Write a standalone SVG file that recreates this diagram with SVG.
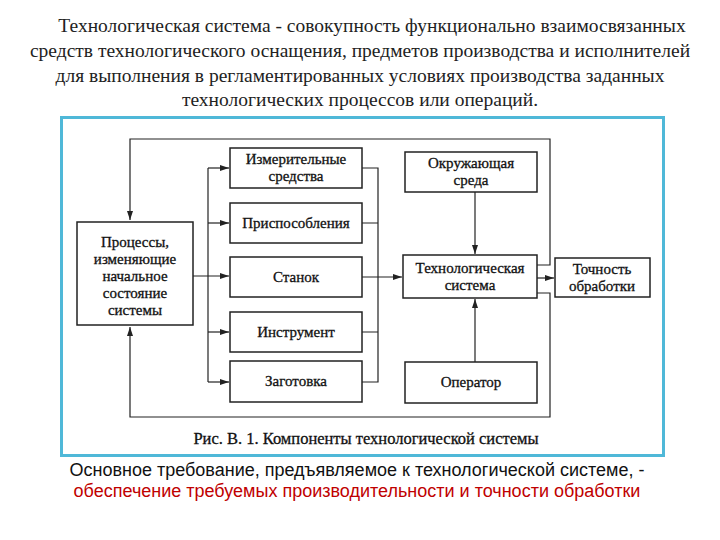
<svg xmlns="http://www.w3.org/2000/svg" width="720" height="540" viewBox="0 0 720 540">
<style>
.h{font-family:'Liberation Serif','DejaVu Serif',serif;font-size:19.5px;fill:#222;text-anchor:middle}
.b{fill:#fff;stroke:#222;stroke-width:1.5}
.t{font-family:'Liberation Serif','DejaVu Serif',serif;font-size:15px;fill:#111;text-anchor:middle;stroke:#111;stroke-width:0.3}
.l{fill:none;stroke:#222;stroke-width:1.2}
.s{font-family:'Liberation Sans',Arial,sans-serif;font-size:18px;text-anchor:middle}
</style>
<defs><marker id="a" markerWidth="10" markerHeight="8" refX="9" refY="4" orient="auto" markerUnits="userSpaceOnUse"><path d="M0,1 L9,4 L0,7 z" fill="#222"/></marker></defs>
<rect width="720" height="540" fill="#fff"/>
<text class="h" x="372" y="32">Технологическая система - совокупность функционально взаимосвязанных</text>
<text class="h" x="360" y="57">средств технологического оснащения, предметов производства и исполнителей</text>
<text class="h" x="360" y="82">для выполнения в регламентированных условиях производства заданных</text>
<text class="h" x="360" y="106">технологических процессов или операций.</text>
<rect x="61.5" y="117.5" width="602" height="338" fill="#fff" stroke="#4fb8d8" stroke-width="3"/>
<g id="connectors">
<path class="l" d="M403,265 H550 V139 H130 V220" marker-end="url(#a)"/>
<path class="l" d="M537,293 H550 V417 H130 V327" marker-end="url(#a)"/>
<path class="l" d="M193,276 H229" marker-end="url(#a)"/>
<path class="l" d="M208,168 V382"/>
<path class="l" d="M208,168 H229" marker-end="url(#a)"/>
<path class="l" d="M208,223 H229" marker-end="url(#a)"/>
<path class="l" d="M208,332 H229" marker-end="url(#a)"/>
<path class="l" d="M208,382 H229" marker-end="url(#a)"/>
<path class="l" d="M362,168 H378 V382 H362 M362,223 H378 M362,332 H378"/>
<path class="l" d="M362,277 H402" marker-end="url(#a)"/>
<path class="l" d="M475,192 V254" marker-end="url(#a)"/>
<path class="l" d="M475,362 V299" marker-end="url(#a)"/>
<path class="l" d="M537,278 H554" marker-end="url(#a)"/>
</g>
<g id="proc"><rect class="b" x="77" y="222" width="116" height="103"/>
<text class="t" x="135" y="247">Процессы,</text><text class="t" x="135" y="264">изменяющие</text><text class="t" x="135" y="281">начальное</text><text class="t" x="135" y="298">состояние</text><text class="t" x="135" y="315">системы</text></g>
<g id="izm"><rect class="b" x="230" y="148" width="132" height="40"/><text class="t" x="296" y="164">Измерительные</text><text class="t" x="296" y="181">средства</text></g>
<g id="prisp"><rect class="b" x="230" y="203" width="132" height="40"/><text class="t" x="296" y="228">Приспособления</text></g>
<g id="stanok"><rect class="b" x="230" y="257" width="132" height="40"/><text class="t" x="296" y="282">Станок</text></g>
<g id="instr"><rect class="b" x="230" y="312" width="132" height="40"/><text class="t" x="296" y="337">Инструмент</text></g>
<g id="zag"><rect class="b" x="230" y="361" width="132" height="41"/><text class="t" x="296" y="386">Заготовка</text></g>
<g id="env"><rect class="b" x="405" y="152" width="132" height="40"/><text class="t" x="471" y="168">Окружающая</text><text class="t" x="471" y="185">среда</text></g>
<g id="tech"><rect class="b" x="403" y="255" width="134" height="43"/><text class="t" x="470" y="273">Технологическая</text><text class="t" x="470" y="290">система</text></g>
<g id="toch"><rect class="b" x="555" y="258" width="95" height="39"/><text class="t" x="602" y="274">Точность</text><text class="t" x="602" y="291">обработки</text></g>
<g id="oper"><rect class="b" x="405" y="362" width="132" height="41"/><text class="t" x="471" y="387">Оператор</text></g>
<text class="t" x="366" y="444" style="font-size:16.5px">Рис. В. 1. Компоненты технологической системы</text>
<text class="s" x="357" y="476" fill="#111">Основное требование, предъявляемое к технологической системе, -</text>
<text class="s" x="357" y="497" fill="#c00000">обеспечение требуемых производительности и точности обработки</text>
</svg>
